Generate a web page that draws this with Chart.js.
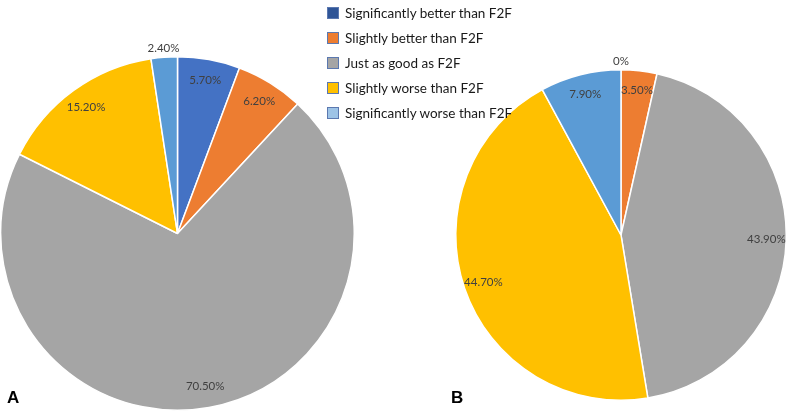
<!DOCTYPE html>
<html>
<head>
<meta charset="utf-8">
<script src="https://cdn.jsdelivr.net/npm/chart.js@4.4.0/dist/chart.umd.min.js"></script>
<style>
    html, body { margin: 0; padding: 0; background: #fff; }
    #wrap { position: relative; width: 787px; height: 412px; overflow: hidden; font-family: Lato, 'Open Sans', sans-serif; }
    canvas { position: absolute; top: 0; }
    #chartA { left: 0; }
    #chartB { left: 430px; }
    .panel { position: absolute; font-family: 'Liberation Sans', Arial, sans-serif; font-weight: bold; font-size: 17px; color: #000; }
    #legend { position: absolute; left: 327px; top: 0; }
    .legend-item { display: flex; align-items: center; height: 25px; font-size: 13.5px; color: #1a1a1a; white-space: nowrap; }
    .legend-box { width: 10px; height: 10px; border: 1px solid #5b78b0; margin-right: 6px; }
</style>
</head>
<body>
<div id="wrap">
    <canvas id="chartA" width="380" height="412"></canvas>
    <canvas id="chartB" width="357" height="412"></canvas>
    <div id="legend"></div>
    <div class="panel" style="left:7px; top:388px;">A</div>
    <div class="panel" style="left:451px; top:388px;">B</div>
</div>
<script>
const categories = [
    'Significantly better than F2F',
    'Slightly better than F2F',
    'Just as good as F2F',
    'Slightly worse than F2F',
    'Significantly worse than F2F'
];
const valuesA = [5.7, 6.2, 70.5, 15.2, 2.4];
const valuesB = [0, 3.5, 43.9, 44.7, 7.9];

const sliceColors = ['#4472C4', '#ED7D31', '#A5A5A5', '#FFC000', '#5B9BD5'];
const legendColors = ['#2F5597', '#ED7D31', '#A5A5A5', '#FFC000', '#9DC3E6'];

// percentage labels, placed inside the slice, small slices go outside
const pieLabels = {
    id: 'pieLabels',
    afterDatasetsDraw(chart) {
        const ctx = chart.ctx;
        const meta = chart.getDatasetMeta(0);
        const data = chart.data.datasets[0].data;
        ctx.save();
        ctx.font = '11.5px Lato, "Open Sans", sans-serif';
        ctx.fillStyle = '#404040';
        ctx.textAlign = 'center';
        ctx.textBaseline = 'middle';
        meta.data.forEach((arc, i) => {
            const v = data[i];
            const mid = (arc.startAngle + arc.endAngle) / 2;
            const f = v < 3 ? 1.05 : 0.88;
            const x = arc.x + Math.cos(mid) * arc.outerRadius * f;
            const y = arc.y + Math.sin(mid) * arc.outerRadius * f;
            const text = v === 0 ? '0%' : v.toFixed(2) + '%';
            ctx.fillText(text, x, y);
        });
        ctx.restore();
    }
};

function createPie(id, values, padding) {
    const ctx = document.getElementById(id).getContext('2d');
    return new Chart(ctx, {
        type: 'pie',
        data: {
            labels: categories,
            datasets: [{
                data: values,
                backgroundColor: sliceColors,
                borderColor: '#ffffff',
                borderWidth: 1.5
            }]
        },
        options: {
            responsive: false,
            animation: false,
            layout: { padding: padding },
            plugins: {
                legend: { display: false },
                tooltip: { enabled: false }
            }
        },
        plugins: [pieLabels]
    });
}

createPie('chartA', valuesA, { left: 0, right: 25, top: 56, bottom: 1 });
createPie('chartB', valuesB, { left: 25, right: 0, top: 69, bottom: 11 });

const legend = document.getElementById('legend');
categories.forEach((name, i) => {
    const item = document.createElement('div');
    item.className = 'legend-item';
    const box = document.createElement('div');
    box.className = 'legend-box';
    box.style.background = legendColors[i];
    const label = document.createElement('span');
    label.textContent = name;
    item.appendChild(box);
    item.appendChild(label);
    legend.appendChild(item);
});
</script>
</body>
</html>
